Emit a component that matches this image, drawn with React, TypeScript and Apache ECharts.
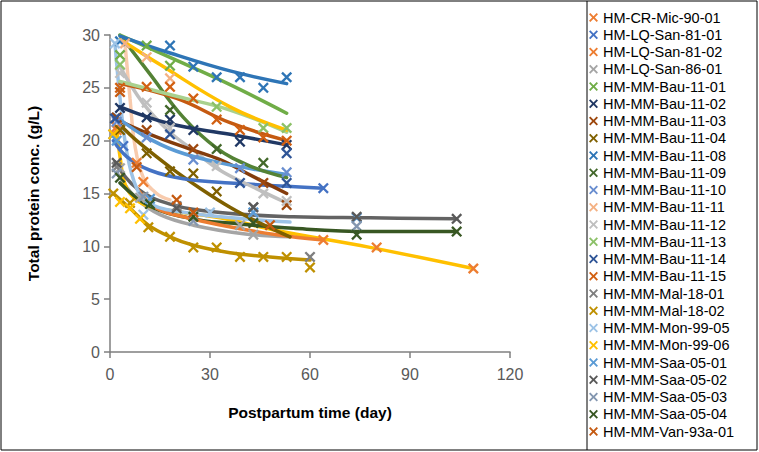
import React, { useEffect, useRef } from "react";
import * as echarts from "echarts";

// ---------- tick settings ----------
const xTicks = { min: 0, max: 120, interval: 30 };
const yTicks = { min: 0, max: 30, interval: 5 };

// ---------- measured points [day, g/L] ----------
const mic9001 = [[2, 21.3], [80, 9.9], [109, 7.9]];
const san8101 = [[1, 20.6], [4, 19.5], [64, 15.5]];
const san8102 = [[2, 21], [8, 17.9], [10, 16.1], [64, 10.6]];
const san8601 = [[3, 17.4], [9, 14.6], [39, 12], [43, 11.1]];
const bau1101 = [[3, 28.1], [11, 29], [18, 27.1]];
const bau1102 = [[3, 23.1], [11, 22.2], [18, 22], [25, 21], [39, 19.9], [53, 19.6]];
const bau1103 = [[2, 22.2], [11, 21], [25, 19.2], [46, 16], [53, 13.9]];
const bau1104 = [[3, 21], [11, 18.8], [18, 17.1], [25, 16.9], [32, 15.2]];
const bau1108 = [[3, 29.4], [18, 29], [25, 27], [32, 26], [39, 26], [46, 25], [53, 26]];
const bau1109 = [[3, 30.1], [18, 22.9], [32, 19.2], [46, 17.9]];
const bau1110 = [[2, 21.8], [11, 20.3], [25, 18.2], [39, 17.4], [53, 17]];
const bau1111 = [[4.5, 29.2], [11, 27.9], [18, 25.9]];
const bau1112 = [[3, 26.4], [11, 23.6], [18, 21.2], [32, 17.6], [46, 15], [53, 14.3]];
const bau1113 = [[3, 27.2], [32, 23.2], [46, 21.2], [53, 21.2]];
const bau1114 = [[1.5, 22.1], [18, 20.6], [39, 16], [53, 16], [53, 18.8]];
const bau1115 = [[3, 25], [11, 25.1], [18, 25.1], [25, 24], [32, 22], [39, 21], [46, 20.3], [53, 20]];
const mal1801 = [[2, 17.5], [20, 13.8], [43, 13.7], [60, 9]];
const mal1802 = [[1, 15], [6, 14.1], [11.5, 11.8], [18, 10.9], [25, 9.9], [32, 9.9], [39, 9], [46, 9], [53, 9], [60, 8]];
const mon9905 = [[1.5, 29.2], [10, 13], [30, 13.2], [43, 13.2]];
const mon9906 = [[1, 20.6], [3, 14.2], [6, 13.6], [9, 12.6]];
const saa0501 = [[2, 20], [12, 14.5], [43, 13.2], [74, 12.7]];
const saa0502 = [[2, 17.9], [20, 13.6], [43, 13.7], [74, 12.8], [104, 12.6]];
const saa0503 = [[2, 16.9], [10, 14.7], [25, 12.4], [74, 11.9]];
const saa0504 = [[3, 16.5], [12, 14], [25, 12.8], [43, 12.2], [74, 11.1], [104, 11.4]];
const van93a01 = [[3, 24.6], [8, 17.5], [20, 14.4], [25, 13.2], [48, 12]];

const seriesNames = [
  "HM-CR-Mic-90-01", "HM-LQ-San-81-01", "HM-LQ-San-81-02", "HM-LQ-San-86-01",
  "HM-MM-Bau-11-01", "HM-MM-Bau-11-02", "HM-MM-Bau-11-03", "HM-MM-Bau-11-04",
  "HM-MM-Bau-11-08", "HM-MM-Bau-11-09", "HM-MM-Bau-11-10", "HM-MM-Bau-11-11",
  "HM-MM-Bau-11-12", "HM-MM-Bau-11-13", "HM-MM-Bau-11-14", "HM-MM-Bau-11-15",
  "HM-MM-Mal-18-01", "HM-MM-Mal-18-02", "HM-MM-Mon-99-05", "HM-MM-Mon-99-06",
  "HM-MM-Saa-05-01", "HM-MM-Saa-05-02", "HM-MM-Saa-05-03", "HM-MM-Saa-05-04",
  "HM-MM-Van-93a-01",
];
const seriesPoints = [
  mic9001, san8101, san8102, san8601, bau1101, bau1102, bau1103, bau1104,
  bau1108, bau1109, bau1110, bau1111, bau1112, bau1113, bau1114, bau1115,
  mal1801, mal1802, mon9905, mon9906, saa0501, saa0502, saa0503, saa0504, van93a01,
];

// ---------- trend lines ----------
const trendBau08 = [[3, 29.9], [18, 28.3], [36, 26.6], [53, 25.4]];
const trendBau01 = [[3, 30], [20, 27.6], [36, 25.3], [53, 22.6]];
const trendBau11 = [[3, 29.6], [15, 27.2], [36, 23.2], [53, 21]];
const trendBau13 = [[3, 25.6], [20, 24.2], [36, 22.9], [53, 20.8]];
const trendBau15 = [[3, 25.4], [20, 24], [36, 21.7], [53, 20]];
const trendBau02 = [[3, 23.2], [18, 21.6], [36, 20.6], [53, 19.6]];
const trendBau09 = [[3, 30], [12, 26.3], [22, 22.2], [32, 19.3], [42, 17.6], [53, 16.5]];
const trendBau10 = [[1, 22.5], [10, 20.5], [20, 19], [33, 17.9], [53, 16.8]];
const trendBau03 = [[2, 22], [12, 20.6], [24, 19.2], [33, 18.2], [43, 16.6], [53, 15]];
const trendBau12 = [[3, 27], [10, 23.5], [18, 20.8], [25, 19.1], [33, 17.2], [43, 15.6], [53, 14.1]];
const trendSan8101 = [[1, 20], [5, 18.5], [12, 17.2], [22, 16.4], [36, 16], [64, 15.5]];
const trendBau04 = [[3, 21.5], [8, 20], [18, 17.5], [27, 15.5], [36, 13.7], [45, 12.2], [54, 10.9]];
const trendVan = [[4.5, 29.2], [6, 24], [7.5, 19.5], [10, 16.5], [14, 15], [18, 14.4]];
const trendSan8102 = [[8, 15.5], [14, 13.6], [22, 12.8], [35, 11.9], [50, 11.1], [64, 10.6]];
const trendSaa02 = [[1.5, 18], [8, 15.5], [18, 14], [33, 13.2], [55, 12.8], [78, 12.7], [104, 12.6]];
const trendSaa04 = [[3, 16], [12, 13.8], [25, 12.6], [36, 12.2], [55, 11.7], [78, 11.4], [104, 11.4]];
const trendMon05 = [[1.5, 29.2], [3, 24], [5, 19], [8, 15.5], [12, 14], [25, 13.1], [40, 12.6], [54, 12.3]];
const trendMic = [[2, 21.3], [3, 18.5], [5, 15.5], [10, 14], [20, 13.3], [33, 12.7], [50, 11.5], [78, 9.9], [109, 7.9]];
const trendMal02 = [[1, 15], [6, 13.6], [11.5, 12], [18, 10.9], [25, 10.1], [36, 9.4], [48, 9], [60, 8.7]];
const trendSaa03 = [[2, 17], [8, 14.5], [15, 13], [25, 12], [40, 11.2], [54, 10.9]];

const trendLines = [
  trendSaa03, trendMal02, trendMic, trendSaa04, trendSaa02, trendSan8102, trendMon05, trendVan,
  trendBau04, trendSan8101, trendBau12, trendBau03, trendBau10, trendBau09, trendBau02,
  trendBau15, trendBau13, trendBau11, trendBau01, trendBau08,
];

// ---------- styles ----------
const markerColors = [
  "#ED7D31", "#4472C4", "#ED7D31", "#A5A5A5", "#70AD47", "#203864", "#9E480E", "#7F6000",
  "#2E75B6", "#43682B", "#698ED0", "#F4B183", "#BFBFBF", "#8CC168", "#2F5597", "#D26012",
  "#7F7F7F", "#BF9000", "#9DC3E6", "#FFC000", "#5B9BD5", "#595959", "#8497B0", "#385723",
  "#C55A11",
];
const trendColors = [
  "#A5A5A5", "#BF9000", "#FFC000", "#385723", "#636363", "#ED7D31", "#9DC3E6", "#F8CBAD",
  "#7F6000", "#4472C4", "#BFBFBF", "#843C0C", "#5B9BD5", "#548235", "#203864",
  "#C55A11", "#A9D18E", "#FFC000", "#70AD47", "#2E75B6",
];

const crossPath =
  "path://M0,1.5 L1.5,0 L5,3.5 L8.5,0 L10,1.5 L6.5,5 L10,8.5 L8.5,10 L5,6.5 L1.5,10 L0,8.5 L3.5,5 Z";
const font = "Liberation Sans";

export default function App() {
  const ref = useRef<HTMLDivElement>(null);
  useEffect(() => {
    const chart = echarts.init(ref.current!, null, { renderer: "svg" });
    const lineSeries = trendLines.map((d, i) => ({
      name: "trend" + i,
      type: "line",
      data: d,
      smooth: 0.4,
      showSymbol: false,
      symbol: "none",
      lineStyle: { color: trendColors[i], width: 3.5, cap: "round" },
      z: 2,
      silent: true,
    }));
    const scatterSeries = seriesPoints.map((d, i) => ({
      name: seriesNames[i],
      type: "scatter",
      data: d,
      symbol: crossPath,
      symbolSize: 11,
      itemStyle: { color: markerColors[i], opacity: 1 },
      z: 3,
    }));
    chart.setOption({
      animation: false,
      backgroundColor: "#fff",
      textStyle: { fontFamily: font },
      grid: { left: 110, right: 249, top: 35, bottom: 100, containLabel: false },
      xAxis: {
        type: "value",
        ...xTicks,
        name: "Postpartum time (day)",
        nameLocation: "middle",
        nameGap: 52,
        nameTextStyle: { fontSize: 15.5, fontWeight: "bold", color: "#000", fontFamily: font },
        axisLine: { show: true, lineStyle: { color: "#7F7F7F", width: 1.5 } },
        axisTick: { show: true, inside: false, length: 6, lineStyle: { color: "#7F7F7F", width: 1.5 } },
        axisLabel: { color: "#595959", fontSize: 16, margin: 14, fontFamily: font },
        splitLine: { show: false },
      },
      yAxis: {
        type: "value",
        ...yTicks,
        name: "Total protein conc. (g/L)",
        nameLocation: "middle",
        nameGap: 69,
        nameRotate: 90,
        nameTextStyle: { fontSize: 15.5, fontWeight: "bold", color: "#000", fontFamily: font },
        axisLine: { show: true, lineStyle: { color: "#7F7F7F", width: 1.5 } },
        axisTick: { show: true, inside: false, length: 6, lineStyle: { color: "#7F7F7F", width: 1.5 } },
        axisLabel: { color: "#595959", fontSize: 16, margin: 10, fontFamily: font },
        splitLine: { show: false },
      },
      legend: {
        orient: "vertical",
        left: 589,
        top: 9,
        padding: 0,
        itemWidth: 9,
        itemHeight: 9,
        itemGap: 0.25,
        data: seriesNames,
        textStyle: { fontSize: 14.5, lineHeight: 17, color: "#000", fontFamily: font },
      },
      graphic: [
        {
          type: "rect",
          shape: { x: 1, y: 1, width: 756, height: 449 },
          style: { fill: "none", stroke: "#000", lineWidth: 1 },
          silent: true,
        },
        {
          type: "line",
          shape: { x1: 587, y1: 1, x2: 587, y2: 450 },
          style: { stroke: "#000", lineWidth: 1 },
          silent: true,
        },
      ],
      series: [...lineSeries, ...scatterSeries],
    });
    return () => chart.dispose();
  }, []);
  return (
    <div
      ref={ref}
      style={{ position: "fixed", left: 0, top: 0, width: 759, height: 452 }}
    />
  );
}
